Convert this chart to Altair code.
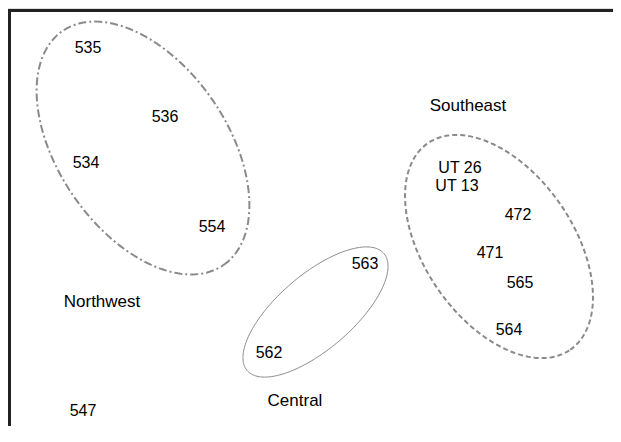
import numpy as np
import pandas as pd
import altair as alt

# ---- data (ordination scores, arbitrary units) ----
labels = ["535", "536", "534", "554", "547", "562", "563",
          "UT 26", "UT 13", "472", "471", "565", "564"]
dim1 = [0.80, 1.57, 0.78, 2.04, 0.75, 2.61, 3.57, 4.52, 4.49, 5.10, 4.82, 5.12, 5.01]
dim2 = [3.78, 3.09, 2.63, 1.99, 0.15, 0.73, 1.62, 2.58, 2.40, 2.11, 1.73, 1.43, 0.96]

groups = ["Northwest", "Central", "Southeast"]
group_x = [0.94, 2.87, 4.60]
group_y = [1.24, 0.25, 3.20]

# ellipse parameters per group: centre, semi-axes, rotation (deg)
ell_cx = [1.35, 3.075, 4.91]
ell_cy = [2.78, 1.14, 1.795]
ell_a = [1.42, 0.90, 1.254]
ell_b = [0.845, 0.374, 0.745]
ell_ang = [-55.5, 40.6, -55.4]

W, H = 605, 418
XMAX, YMAX = W / 100.0, H / 100.0

xs = alt.Scale(domain=[0, XMAX], range=[0, W], nice=False, zero=False)
ys = alt.Scale(domain=[0, YMAX], range=[H, 0], nice=False, zero=False)

pts = pd.DataFrame({"label": labels, "x": dim1, "y": dim2})
grp = pd.DataFrame({"group": groups, "x": group_x, "y": group_y})

t = np.linspace(0, 2 * np.pi, 241)
rows = []
for g, cx, cy, a, b, ang in zip(groups, ell_cx, ell_cy, ell_a, ell_b, ell_ang):
    th = np.deg2rad(ang)
    ex = cx + a * np.cos(t) * np.cos(th) - b * np.sin(t) * np.sin(th)
    ey = cy + a * np.cos(t) * np.sin(th) + b * np.sin(t) * np.cos(th)
    for i, (u, v) in enumerate(zip(ex, ey)):
        rows.append({"group": g, "x": u, "y": v, "i": i})
ell = pd.DataFrame(rows)

X = alt.X("x:Q", scale=xs, axis=None)
Y = alt.Y("y:Q", scale=ys, axis=None)

styles = {
    "Northwest": dict(strokeDash=[8, 3, 2, 3], strokeWidth=2),
    "Central": dict(strokeWidth=1),
    "Southeast": dict(strokeDash=[5, 3], strokeWidth=2),
}
ell_layers = [
    alt.Chart(ell[ell.group == g]).mark_line(color="#8a8a8a", **styles[g]).encode(
        x=X, y=Y, order="i:Q")
    for g in groups
]

txt = alt.Chart(pts).mark_text(font="Liberation Sans", fontSize=16, color="black",
                               align="center", baseline="middle").encode(x=X, y=Y, text="label:N")
gtxt = alt.Chart(grp).mark_text(font="Liberation Sans", fontSize=17, color="black",
                                align="center", baseline="middle").encode(x=X, y=Y, text="group:N")

top_border = alt.Chart(pts).mark_rule(color="#222222", strokeWidth=3).encode(
    x=alt.value(0), x2=alt.value(W), y=alt.value(2.5))
left_border = alt.Chart(pts).mark_rule(color="#222222", strokeWidth=3).encode(
    x=alt.value(1.5), y=alt.value(1), y2=alt.value(H))

chart = alt.layer(*ell_layers, txt, gtxt, top_border, left_border).properties(
    width=W, height=H,
    autosize=alt.AutoSizeParams(type="none"),
    padding=0,
).configure_view(stroke=None).configure(background="white")

chart.save("out.html", embed_options={"renderer": "svg", "actions": False})
